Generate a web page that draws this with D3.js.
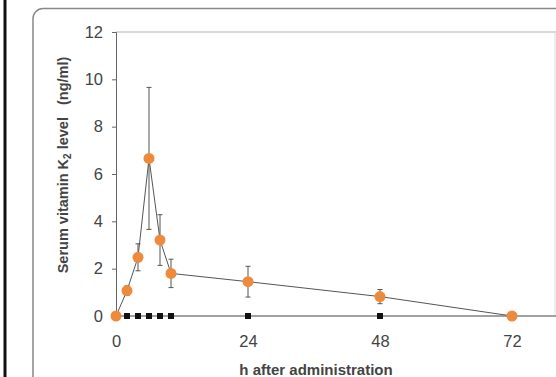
<!DOCTYPE html>
<html><head><meta charset="utf-8">
<script src="https://cdn.jsdelivr.net/npm/d3@7"></script>
<style>body{margin:0;background:#fff;}svg{display:block;}text{font-family:"Liberation Sans",Arial,sans-serif;}</style>
</head><body>
<div id="chart"></div>
<script>
const hours = [0, 2, 4, 6, 8, 10, 24, 48, 72];
const meanK2 = [0, 1.07, 2.48, 6.66, 3.21, 1.80, 1.45, 0.82, 0];
const sdK2 = [0, 0.2, 0.57, 3.0, 1.07, 0.6, 0.65, 0.3, 0];
const controlHours = [0, 2, 4, 6, 8, 10, 24, 48];
const controlVals = [0, 0, 0, 0, 0, 0, 0, 0];
const yTicks = [0, 2, 4, 6, 8, 10, 12];
const xTicks = [0, 24, 48, 72];

const W = 556, H = 377;
const svg = d3.select("#chart").append("svg").attr("width", W).attr("height", H);

// left black bar and outer rounded frame
svg.append("rect").attr("x", 3.5).attr("y", 0).attr("width", 3).attr("height", H).attr("fill", "#111");
svg.append("rect").attr("x", 33).attr("y", 8.5).attr("width", 600).attr("height", 420)
  .attr("rx", 10).attr("fill", "none").attr("stroke", "#888").attr("stroke-width", 1.5);

const x = d3.scaleLinear().domain([0, 72]).range([116, 512]);
const y = d3.scaleLinear().domain([0, 12]).range([316, 32]);

// plot frame (top & right light)
svg.append("line").attr("x1", 116).attr("x2", 556).attr("y1", 32).attr("y2", 32).attr("stroke", "#ccc").attr("stroke-width", 1.5);
svg.append("line").attr("x1", 555).attr("x2", 555).attr("y1", 32).attr("y2", 316).attr("stroke", "#ddd").attr("stroke-width", 1);

// y axis
const yAxis = svg.append("g").attr("transform", "translate(116,0)")
  .call(d3.axisLeft(y).tickValues(yTicks).tickSize(4).tickPadding(9).tickFormat(d3.format("d")));
yAxis.select(".domain").attr("stroke", "#666");
yAxis.selectAll(".tick line").attr("stroke", "#666");
yAxis.selectAll(".tick text").attr("font-size", 16.5).attr("fill", "#444");

// x axis
const xAxis = svg.append("g").attr("transform", "translate(0,316)")
  .call(d3.axisBottom(x).tickValues(xTicks).tickSize(0).tickPadding(19).tickFormat(d3.format("d")));
xAxis.select(".domain").remove();
xAxis.selectAll(".tick text").attr("font-size", 16.5).attr("fill", "#444");
svg.append("line").attr("x1", 116).attr("x2", 556).attr("y1", 316).attr("y2", 316).attr("stroke", "#444").attr("stroke-width", 1.2);

// axis labels
svg.append("text").attr("transform", "translate(68,165) rotate(-90)").attr("text-anchor", "middle")
  .attr("font-size", 14.5).attr("font-weight", "bold").attr("fill", "#444")
  .style("white-space", "pre")
  .html('Serum vitamin K<tspan font-size="10" dy="3">2</tspan><tspan dy="-3"> level   (ng/ml)</tspan>');
svg.append("text").attr("x", 316).attr("y", 375).attr("text-anchor", "middle")
  .attr("font-size", 15).attr("font-weight", "bold").attr("fill", "#444").text("h after administration");

// control squares
svg.selectAll("rect.ctrl").data(controlHours).enter().append("rect").attr("class", "ctrl")
  .attr("x", (d) => x(d) - 3).attr("y", (d, i) => y(controlVals[i]) - 3)
  .attr("width", 6).attr("height", 6).attr("fill", "#111");

// error bars
const data = hours.map((h, i) => ({h, m: meanK2[i], s: sdK2[i]}));
const eb = svg.append("g").attr("stroke", "#555").attr("stroke-width", 1);
data.filter(d => d.s > 0).forEach(d => {
  eb.append("line").attr("x1", x(d.h)).attr("x2", x(d.h)).attr("y1", y(d.m - d.s)).attr("y2", y(d.m + d.s));
  [d.m - d.s, d.m + d.s].forEach(v => eb.append("line").attr("x1", x(d.h) - 2.5).attr("x2", x(d.h) + 2.5).attr("y1", y(v)).attr("y2", y(v)));
});

// line
svg.append("path").datum(data).attr("fill", "none").attr("stroke", "#555").attr("stroke-width", 1)
  .attr("d", d3.line().x(d => x(d.h)).y(d => y(d.m)));

// points
svg.selectAll("circle.pt").data(data).enter().append("circle").attr("class", "pt")
  .attr("cx", d => x(d.h)).attr("cy", d => y(d.m)).attr("r", 5.5).attr("fill", "#EE8A3C");
</script>
</body></html>
